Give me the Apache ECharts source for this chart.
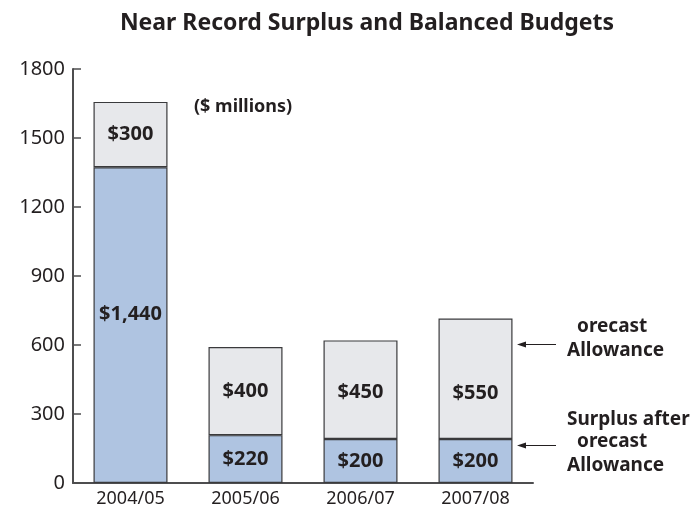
<!DOCTYPE html>
<html>
<head>
<meta charset="utf-8">
<script src="https://cdn.jsdelivr.net/npm/echarts@6/dist/echarts.min.js"></script>
<style>
html,body{margin:0;padding:0;background:#fff;}
#c{width:691px;height:509px;}
</style>
</head>
<body>
<div id="c"></div>
<script>
var categories = ['2004/05', '2005/06', '2006/07', '2007/08'];
var surplusValues = [1373, 208, 191, 191];
var allowanceValues = [284, 383, 429, 524];
var surplusLabels = ['$1,440', '$220', '$200', '$200'];
var allowanceLabels = ['$300', '$400', '$450', '$550'];
var yTicks = [0, 300, 600, 900, 1200, 1500, 1800];

var FONT = '"Noto Sans", "Open Sans", sans-serif';
var chart = echarts.init(document.getElementById('c'), null, {renderer: 'canvas'});

var labelStyle = {
  show: true, position: 'inside', color: '#231f20',
  fontFamily: FONT, fontWeight: 'bold', fontSize: 20
};

var option = {
  animation: false,
  backgroundColor: '#fff',
  title: {
    text: 'Near Record Surplus and Balanced Budgets',
    left: 362, top: 7, textAlign: 'center',
    textStyle: {fontFamily: FONT, fontWeight: 'bold', fontSize: 23, color: '#231f20'}
  },
  grid: {left: 73, right: 158, top: 69, bottom: 26, containLabel: false},
  xAxis: {
    type: 'category', data: categories,
    axisLine: {lineStyle: {color: '#4d4d4f', width: 2}},
    axisTick: {show: false},
    axisLabel: {color: '#231f20', fontFamily: FONT, fontSize: 18, margin: 7}
  },
  yAxis: {
    type: 'value', min: yTicks[0], max: yTicks[yTicks.length - 1], interval: 300,
    axisLine: {show: true, lineStyle: {color: '#4d4d4f', width: 2}},
    axisTick: {show: true, inside: true, length: 8, lineStyle: {color: '#4d4d4f', width: 1.5}},
    splitLine: {show: false},
    axisLabel: {color: '#231f20', fontFamily: FONT, fontSize: 20, margin: 8,
      formatter: function (v) { return String(v); }}
  },
  series: [
    {
      name: 'Surplus after Forecast Allowance', type: 'bar', stack: 'total', barWidth: 74,
      itemStyle: {color: '#afc4e1', borderColor: '#3a3a3c', borderWidth: 1.2},
      data: surplusValues.map(function (v, i) {
        var d = {value: v, label: {formatter: surplusLabels[i]}};
        if (i === 0) d.label.offset = [0, -11];
        return d;
      }),
      label: labelStyle
    },
    {
      name: 'Forecast Allowance', type: 'bar', stack: 'total', barWidth: 74,
      itemStyle: {color: '#e7e8eb', borderColor: '#3a3a3c', borderWidth: 1.2},
      data: allowanceValues.map(function (v, i) {
        var d = {value: v, label: {formatter: allowanceLabels[i]}};
        if (i === 2) d.label.offset = [0, 3];
        if (i === 3) d.label.offset = [0, 14];
        return d;
      }),
      label: labelStyle
    }
  ],
  graphic: [
    {type: 'text', left: 194, top: 98, style: {text: '($ millions)', font: 'bold 18px ' + FONT, fill: '#231f20'}},
    {type: 'text', left: 577, top: 317, style: {text: 'orecast', font: 'bold 19px ' + FONT, fill: '#231f20'}},
    {type: 'text', left: 567, top: 341, style: {text: 'Allowance', font: 'bold 19px ' + FONT, fill: '#231f20'}},
    {type: 'text', left: 567, top: 410, style: {text: 'Surplus after', font: 'bold 19px ' + FONT, fill: '#231f20'}},
    {type: 'text', left: 577, top: 432, style: {text: 'orecast', font: 'bold 19px ' + FONT, fill: '#231f20'}},
    {type: 'text', left: 567, top: 456, style: {text: 'Allowance', font: 'bold 19px ' + FONT, fill: '#231f20'}},
    {type: 'line', shape: {x1: 524, y1: 344.5, x2: 556, y2: 344.5}, style: {stroke: '#231f20', lineWidth: 1}},
    {type: 'polygon', shape: {points: [[517, 344.5], [526, 341.5], [526, 347.5]]}, style: {fill: '#231f20'}},
    {type: 'line', shape: {x1: 524, y1: 445.5, x2: 556, y2: 445.5}, style: {stroke: '#231f20', lineWidth: 1}},
    {type: 'polygon', shape: {points: [[517, 445.5], [526, 442.5], [526, 448.5]]}, style: {fill: '#231f20'}}
  ]
};
chart.setOption(option);
</script>
</body>
</html>
